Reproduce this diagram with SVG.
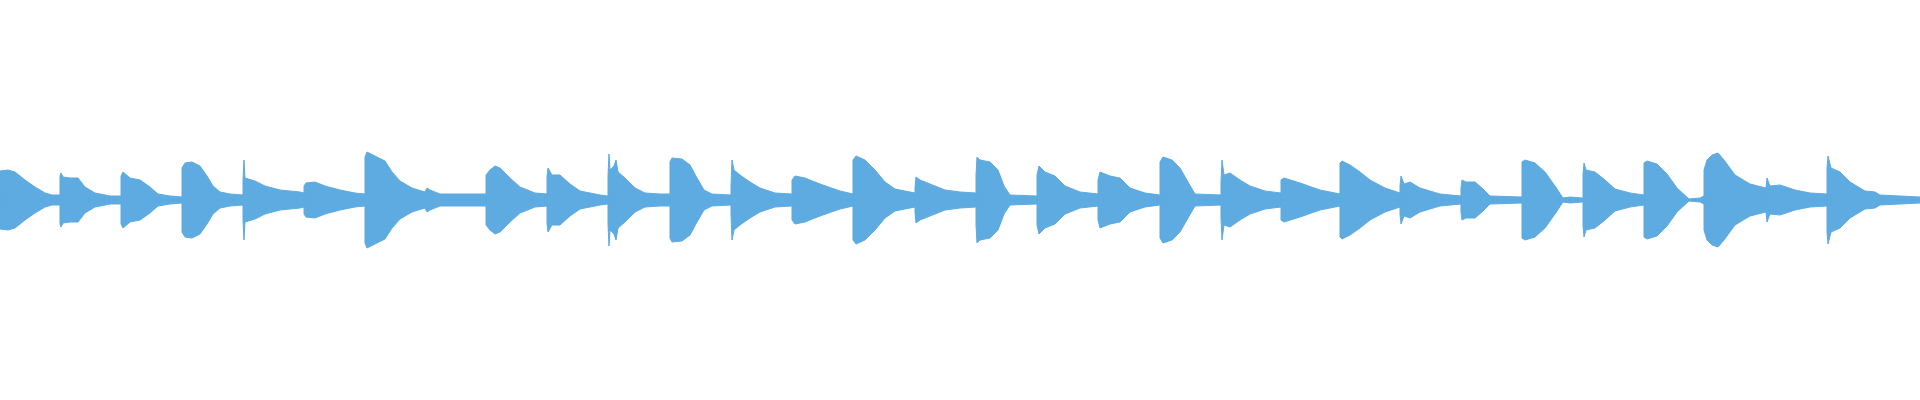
<svg xmlns="http://www.w3.org/2000/svg" xmlns:xlink="http://www.w3.org/1999/xlink" width="1920" height="400" viewBox="0 0 1920 400">
<style>.w{fill:#5dabe0;stroke:#5dabe0;stroke-width:1;stroke-linejoin:miter}</style>
<rect width="1920" height="400" fill="#ffffff"/>
<defs>
<g id="top" class="w">
<path d="M0 200 V171 L8 170 L15 172 L25 180 L35 187 L45 193 L52 195 L60 195 V200Z"/>
<path d="M60 200 V176 L61 173 L63 177 L70 178 L78 178 L85 187 L95 193 L110 196 L121 196 V200Z"/>
<path d="M121 200 V176 L123 172 L130 178 L140 180 L150 187 L158 194 L170 196 L182 197 V200Z"/>
<path d="M182 200 V168 L185 163 L192 162 L200 166 L207 176 L213 186 L220 192 L230 194 L243 195 V200Z"/>
<path d="M243 200 V180 L244 160 L245 178 L255 181 L265 186 L280 190 L300 192 L304 193 V200Z"/>
<path d="M304 200 V186 L306 183 L315 182 L325 186 L340 190 L355 193 L365 194 V200Z"/>
<path d="M365 200 V157 L367 152 L375 156 L385 161 L392 172 L400 181 L412 188 L425 192 L427 188 L430 190 L440 194 L486 194 V200Z"/>
<path d="M486 200 V175 L490 170 L495 166 L500 168 L510 178 L520 187 L535 193 L547 194 V200Z"/>
<path d="M547 200 V176 L548 168 L552 175 L560 175 L570 184 L580 191 L590 193 L600 195 L608 196 V200Z"/>
<path d="M608 200 V176 L609 154 L610 170 L614 166 L616 160 L618 172 L625 178 L635 188 L645 193 L660 194 L670 194 V200Z"/>
<path d="M670 200 V162 L672 158 L682 159 L690 165 L697 178 L704 190 L712 194 L731 195 V200Z"/>
<path d="M731 200 V186 L732 160 L734 170 L740 175 L750 182 L760 188 L775 193 L792 194 V200Z"/>
<path d="M792 200 V180 L795 176 L805 178 L820 184 L840 191 L853 194 V200Z"/>
<path d="M853 200 V160 L856 156 L865 160 L875 170 L885 182 L895 189 L915 193 V200Z"/>
<path d="M915 200 V188 L916 177 L920 180 L930 184 L945 190 L960 192 L976 193 V200Z"/>
<path d="M976 200 V175 L977 157 L980 160 L990 162 L998 170 L1004 186 L1010 195 L1037 196 V200Z"/>
<path d="M1037 200 V175 L1039 166 L1045 172 L1055 176 L1065 186 L1080 192 L1098 194 V200Z"/>
<path d="M1098 200 V180 L1100 172 L1110 176 L1120 178 L1130 188 L1145 193 L1160 195 V200Z"/>
<path d="M1160 200 V162 L1163 157 L1172 160 L1180 168 L1188 182 L1195 194 L1221 195 V200Z"/>
<path d="M1221 200 V182 L1222 160 L1224 175 L1230 173 L1240 180 L1250 186 L1265 191 L1281 193 V200Z"/>
<path d="M1281 200 V180 L1284 178 L1300 183 L1320 190 L1340 194 V200Z"/>
<path d="M1340 200 V163 L1342 161 L1350 165 L1360 172 L1370 180 L1385 188 L1400 193 V200Z"/>
<path d="M1400 200 V186 L1401 176 L1404 184 L1410 182 L1420 188 L1440 194 L1461 196 V200Z"/>
<path d="M1461 200 V188 L1462 180 L1466 182 L1475 182 L1482 188 L1490 196 L1522 197 V200Z"/>
<path d="M1522 200 V162 L1525 160 L1535 163 L1545 172 L1555 186 L1563 198 L1570 197 L1583 198 V200Z"/>
<path d="M1583 200 V175 L1584 163 L1586 170 L1595 172 L1605 180 L1615 189 L1630 193 L1644 195 V200Z"/>
<path d="M1644 200 V163 L1647 161 L1657 164 L1667 174 L1677 188 L1689 199 L1700 198 L1704 196 V200Z"/>
<path d="M1704 200 V170 L1707 160 L1712 155 L1718 153 L1724 160 L1735 175 L1750 184 L1766 188 V200Z"/>
<path d="M1766 200 V188 L1767 178 L1770 186 L1780 185 L1795 190 L1810 193 L1827 194 V200Z"/>
<path d="M1827 200 V168 L1828 156 L1831 168 L1840 172 L1850 182 L1865 191 L1875 192 L1880 195 L1900 196 L1920 197 V200Z"/>
</g>
</defs>
<use xlink:href="#top" href="#top"/>
<use xlink:href="#top" href="#top" transform="translate(0,400) scale(1,-1)"/>
</svg>
